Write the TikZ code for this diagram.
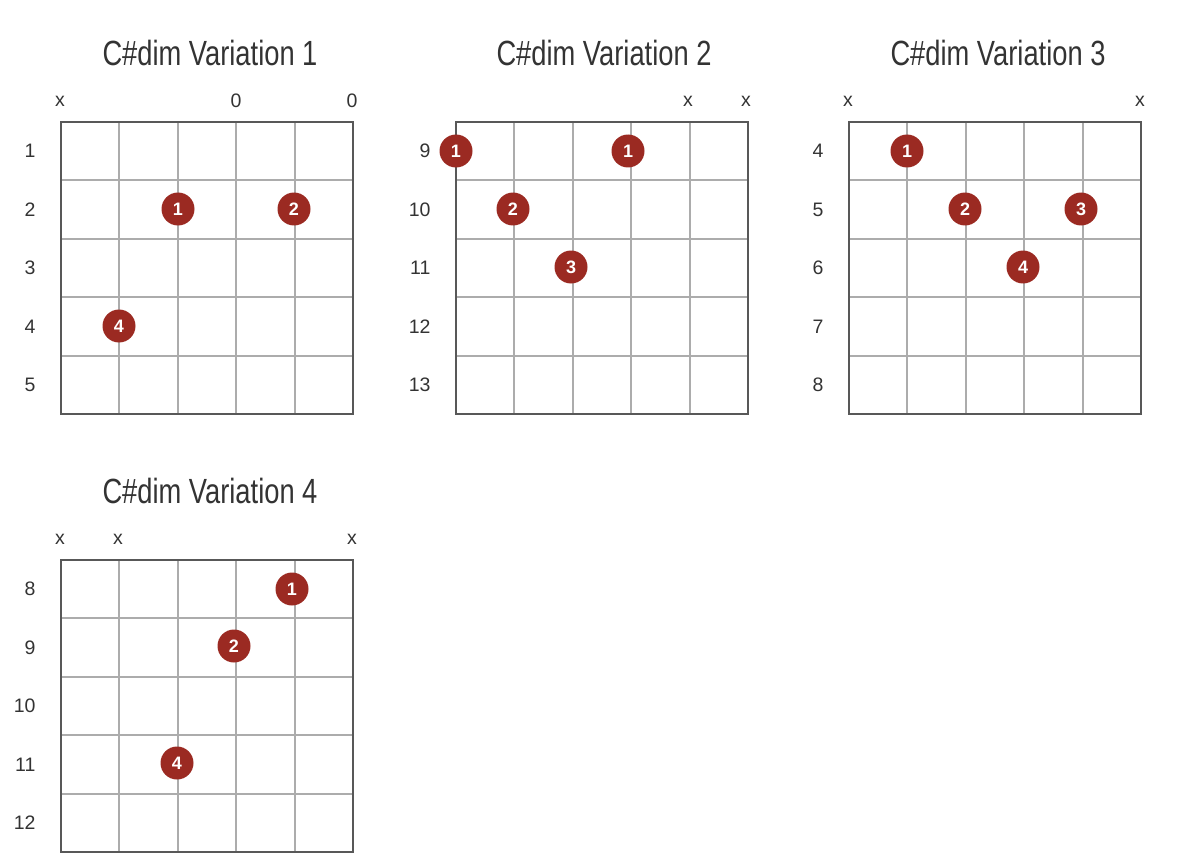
\documentclass[tikz,border=0pt]{standalone}
\usepackage{fontspec}
\setmainfont{Liberation Sans}
\newfontfamily\titlefont[FakeStretch=0.78]{Liberation Sans}
\usetikzlibrary{positioning}
\definecolor{chordred}{RGB}{155,42,34}
\definecolor{gridgrey}{RGB}{172,172,172}
\definecolor{framegrey}{RGB}{88,88,88}
\definecolor{labelgrey}{RGB}{51,51,51}
\tikzset{
  finger/.style={circle, fill=chordred, minimum size=33pt, inner sep=0pt, text=white, font=\fontsize{18}{18}\selectfont\bfseries},
  fretlabel/.style={anchor=east, font=\fontsize{19.5}{19.5}\selectfont, text=labelgrey},
  strmark/.style={font=\fontsize{19.5}{19.5}\selectfont, text=labelgrey},
  charttitle/.style={font=\titlefont\fontsize{35}{35}\selectfont, text=labelgrey},
  fretline/.style={draw=gridgrey, line width=2pt},
  chordframe/.style={draw=framegrey, line width=1.6pt},
}

\begin{document}
\begin{tikzpicture}[x=1pt, y=-1pt]
  \useasboundingbox (0,0) rectangle (1200,864);

  %% --- GRIDS ---
  \foreach \ox/\oy in {61/122, 456/122, 849/122, 61/560} {
    \foreach \i in {1,...,4} {
      \draw[fretline] ({\ox+\i*58.4},\oy) -- ({\ox+\i*58.4},\oy+292);
      \draw[fretline] (\ox,{\oy+\i*58.4}) -- (\ox+292,{\oy+\i*58.4});
    }
    \draw[chordframe] (\ox,\oy) rectangle (\ox+292,\oy+292);
  }

  %% --- VARIATION 1 ---
  \node[charttitle] (title1) at (210,53) {C\#dim Variation 1};
  \node[strmark] (m1a) at (60,101)  {x};
  \node[strmark] (m1b) at (236,101) {0};
  \node[strmark] (m1c) at (352,101) {0};
  \foreach \n [count=\r] in {1,...,5}
    \node[fretlabel] (fr1\r) at (39,{122+(\r-0.5)*58.4}) {\n};
  \node[finger] (v1a) at (178,209) {1};
  \node[finger] (v1b) at (294,209) {2};
  \node[finger] (v1c) at (119,326) {4};

  %% --- VARIATION 2 ---
  \node[charttitle] (title2) at (604,53) {C\#dim Variation 2};
  \node[strmark] (m2a) at (688,101) {x};
  \node[strmark] (m2b) at (746,101) {x};
  \foreach \n [count=\r] in {9,...,13}
    \node[fretlabel] (fr2\r) at (434,{122+(\r-0.5)*58.4}) {\n};
  \node[finger] (v2a) at (456,151) {1};
  \node[finger] (v2b) at (628,151) {1};
  \node[finger] (v2c) at (513,209) {2};
  \node[finger] (v2d) at (571,267) {3};

  %% --- VARIATION 3 ---
  \node[charttitle] (title3) at (998,53) {C\#dim Variation 3};
  \node[strmark] (m3a) at (848,101)  {x};
  \node[strmark] (m3b) at (1140,101) {x};
  \foreach \n [count=\r] in {4,...,8}
    \node[fretlabel] (fr3\r) at (827,{122+(\r-0.5)*58.4}) {\n};
  \node[finger] (v3a) at (907,151)  {1};
  \node[finger] (v3b) at (965,209)  {2};
  \node[finger] (v3c) at (1081,209) {3};
  \node[finger] (v3d) at (1023,267) {4};

  %% --- VARIATION 4 ---
  \node[charttitle] (title4) at (210,491) {C\#dim Variation 4};
  \node[strmark] (m4a) at (60,539)  {x};
  \node[strmark] (m4b) at (118,539) {x};
  \node[strmark] (m4c) at (352,539) {x};
  \foreach \n [count=\r] in {8,...,12}
    \node[fretlabel] (fr4\r) at (39,{560+(\r-0.5)*58.4}) {\n};
  \node[finger] (v4a) at (292,589) {1};
  \node[finger] (v4b) at (234,646) {2};
  \node[finger] (v4c) at (177,763) {4};
\end{tikzpicture}
\end{document}
